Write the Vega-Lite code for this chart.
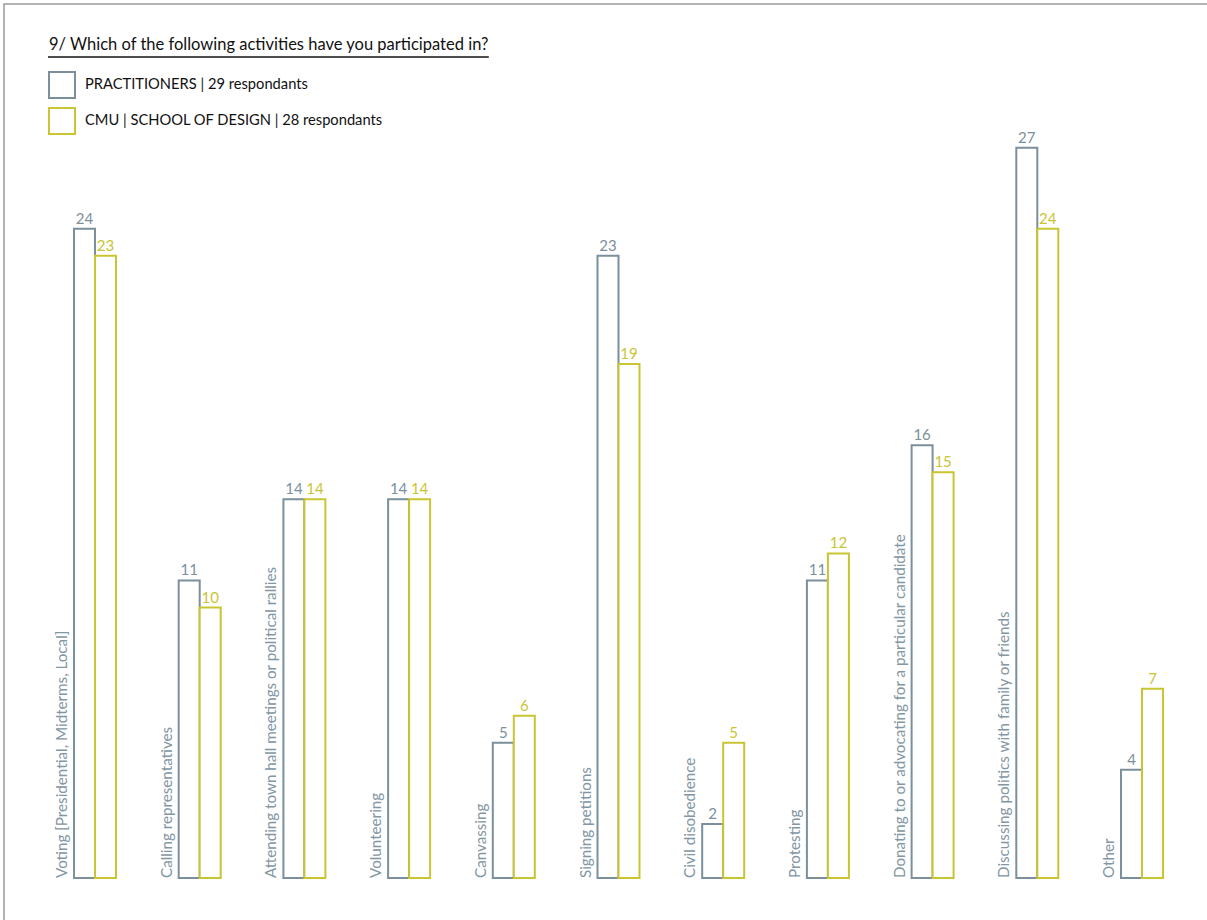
{
  "$schema": "https://vega.github.io/schema/vega-lite/v6.json",
  "autosize": {"type": "none"},
  "padding": {"left": 4, "top": 4, "right": 0, "bottom": 0},
  "width": 1229,
  "height": 920,
  "background": "white",
  "config": {"view": {"stroke": "#9b9b9b", "strokeWidth": 1.5}, "font": "Lato"},
  "title": {
    "text": "9/ Which of the following activities have you participated in?",
    "anchor": "start", "frame": "group", "offset": 0, "baseline": "alphabetic",
    "dx": 45, "dy": 62, "fontSize": 16.5, "fontWeight": "normal", "color": "#111111", "font": "Lato"
  },
  "data": {"values": [
    {"category": "Voting [Presidential, Midterms, Local]", "group": "PRACTITIONERS | 29 respondants", "value": 24},
    {"category": "Voting [Presidential, Midterms, Local]", "group": "CMU | SCHOOL OF DESIGN | 28 respondants", "value": 23},
    {"category": "Calling representatives", "group": "PRACTITIONERS | 29 respondants", "value": 11},
    {"category": "Calling representatives", "group": "CMU | SCHOOL OF DESIGN | 28 respondants", "value": 10},
    {"category": "Attending town hall meetings or political rallies", "group": "PRACTITIONERS | 29 respondants", "value": 14},
    {"category": "Attending town hall meetings or political rallies", "group": "CMU | SCHOOL OF DESIGN | 28 respondants", "value": 14},
    {"category": "Volunteering", "group": "PRACTITIONERS | 29 respondants", "value": 14},
    {"category": "Volunteering", "group": "CMU | SCHOOL OF DESIGN | 28 respondants", "value": 14},
    {"category": "Canvassing", "group": "PRACTITIONERS | 29 respondants", "value": 5},
    {"category": "Canvassing", "group": "CMU | SCHOOL OF DESIGN | 28 respondants", "value": 6},
    {"category": "Signing petitions", "group": "PRACTITIONERS | 29 respondants", "value": 23},
    {"category": "Signing petitions", "group": "CMU | SCHOOL OF DESIGN | 28 respondants", "value": 19},
    {"category": "Civil disobedience", "group": "PRACTITIONERS | 29 respondants", "value": 2},
    {"category": "Civil disobedience", "group": "CMU | SCHOOL OF DESIGN | 28 respondants", "value": 5},
    {"category": "Protesting", "group": "PRACTITIONERS | 29 respondants", "value": 11},
    {"category": "Protesting", "group": "CMU | SCHOOL OF DESIGN | 28 respondants", "value": 12},
    {"category": "Donating to or advocating for a particular candidate", "group": "PRACTITIONERS | 29 respondants", "value": 16},
    {"category": "Donating to or advocating for a particular candidate", "group": "CMU | SCHOOL OF DESIGN | 28 respondants", "value": 15},
    {"category": "Discussing politics with family or friends", "group": "PRACTITIONERS | 29 respondants", "value": 27},
    {"category": "Discussing politics with family or friends", "group": "CMU | SCHOOL OF DESIGN | 28 respondants", "value": 24},
    {"category": "Other", "group": "PRACTITIONERS | 29 respondants", "value": 4},
    {"category": "Other", "group": "CMU | SCHOOL OF DESIGN | 28 respondants", "value": 7}
  ]},
  "encoding": {
    "x": {"field": "category", "type": "nominal", "sort": null,
      "scale": {"paddingInner": 0.5989, "paddingOuter": 0.6686}, "axis": null},
    "y": {"field": "value", "type": "quantitative",
      "scale": {"domain": [-1.7, 32.31], "nice": false, "zero": false}, "axis": null}
  },
  "layer": [
    {
      "mark": {"type": "bar", "fill": "white", "strokeWidth": 2},
      "encoding": {
        "xOffset": {"field": "group", "type": "nominal", "sort": null, "scale": {"paddingInner": 0, "paddingOuter": 0}},
        "stroke": {"field": "group", "type": "nominal", "sort": null,
          "scale": {"range": ["#7b909c", "#c9c532"]},
          "legend": {"title": null, "orient": "none", "legendX": 44, "legendY": 67,
            "symbolType": "square", "symbolSize": 676, "symbolStrokeWidth": 2, "symbolFillColor": "white",
            "labelFontSize": 14.7, "labelColor": "#111111", "labelFont": "Lato", "labelOffset": 9, "rowPadding": 2, "labelLimit": 500}}
      }
    },
    {
      "mark": {"type": "text", "baseline": "alphabetic", "dy": -5, "fontSize": 15, "font": "Lato"},
      "encoding": {
        "xOffset": {"field": "group", "type": "nominal", "sort": null},
        "text": {"field": "value", "type": "quantitative"},
        "color": {"field": "group", "type": "nominal", "sort": null,
          "scale": {"range": ["#7b909c", "#c9c532"]}, "legend": null}
      }
    },
    {
      "transform": [{"filter": "datum.group == 'PRACTITIONERS | 29 respondants'"}],
      "mark": {"type": "text", "angle": 270, "align": "left", "baseline": "alphabetic", "xOffset": -7, "fontSize": 15.2, "font": "Lato", "color": "#8296a3"},
      "encoding": {
        "x": {"field": "category", "type": "nominal", "sort": null, "bandPosition": 0},
        "y": {"datum": 0, "type": "quantitative"},
        "text": {"field": "category", "type": "nominal"}
      }
    },
    {
      "data": {"values": [{"from": "Voting [Presidential, Midterms, Local]", "to": "Canvassing", "level": 30.35}]},
      "mark": {"type": "rule", "color": "#111111", "strokeWidth": 1.5, "xOffset": -47, "x2Offset": -25},
      "encoding": {
        "x": {"field": "from", "type": "nominal"},
        "x2": {"field": "to"},
        "y": {"field": "level", "type": "quantitative"}
      }
    }
  ]
}
